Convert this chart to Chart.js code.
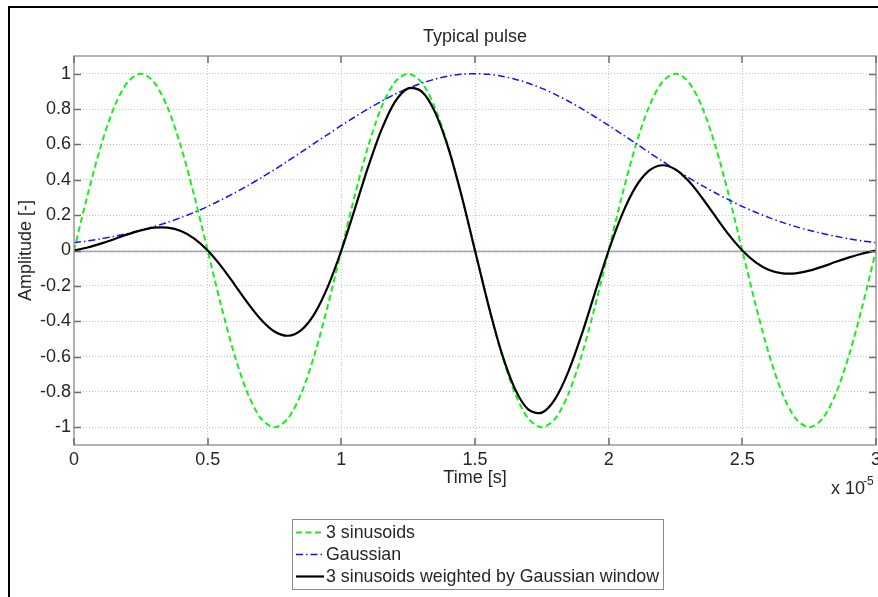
<!DOCTYPE html>
<html>
<head>
<meta charset="utf-8">
<title>Typical pulse</title>
<script src="https://cdn.jsdelivr.net/npm/chart.js@4.4.0/dist/chart.umd.min.js"></script>
<style>
  html, body { margin: 0; padding: 0; background: #fff; }
  canvas { display: block; }
</style>
</head>
<body>
<canvas id="pulse" width="878" height="597"></canvas>
<script>
// time axis in units of 1e-5 s
const timeTicks = [0, 0.5, 1, 1.5, 2, 2.5, 3];
const ampTicks = [-1, -0.8, -0.6, -0.4, -0.2, 0, 0.2, 0.4, 0.6, 0.8, 1];

const time = [
  0, 0.05, 0.1, 0.15, 0.2, 0.25, 0.3, 0.35, 0.4, 0.45,
  0.5, 0.55, 0.6, 0.65, 0.7, 0.75, 0.8, 0.85, 0.9, 0.95,
  1, 1.05, 1.1, 1.15, 1.2, 1.25, 1.3, 1.35, 1.4, 1.45,
  1.5, 1.55, 1.6, 1.65, 1.7, 1.75, 1.8, 1.85, 1.9, 1.95,
  2, 2.05, 2.1, 2.15, 2.2, 2.25, 2.3, 2.35, 2.4, 2.45,
  2.5, 2.55, 2.6, 2.65, 2.7, 2.75, 2.8, 2.85, 2.9, 2.95,
  3
];

const sinusoids = [
  0, 0.309, 0.588, 0.809, 0.951, 1, 0.951, 0.809, 0.588, 0.309,
  0, -0.309, -0.588, -0.809, -0.951, -1, -0.951, -0.809, -0.588, -0.309,
  0, 0.309, 0.588, 0.809, 0.951, 1, 0.951, 0.809, 0.588, 0.309,
  0, -0.309, -0.588, -0.809, -0.951, -1, -0.951, -0.809, -0.588, -0.309,
  0, 0.309, 0.588, 0.809, 0.951, 1, 0.951, 0.809, 0.588, 0.309,
  0, -0.309, -0.588, -0.809, -0.951, -1, -0.951, -0.809, -0.588, -0.309,
  0
];

const gaussian = [
  0.044, 0.054, 0.066, 0.080, 0.096, 0.114, 0.135, 0.159, 0.186, 0.216,
  0.249, 0.286, 0.325, 0.367, 0.411, 0.458, 0.506, 0.556, 0.607, 0.657,
  0.707, 0.755, 0.801, 0.844, 0.883, 0.917, 0.946, 0.969, 0.986, 0.997,
  1, 0.997, 0.986, 0.969, 0.946, 0.917, 0.883, 0.844, 0.801, 0.755,
  0.707, 0.657, 0.607, 0.556, 0.506, 0.458, 0.411, 0.367, 0.325, 0.286,
  0.249, 0.216, 0.186, 0.159, 0.135, 0.114, 0.096, 0.080, 0.066, 0.054,
  0.044
];

const weighted = [
  0, 0.017, 0.039, 0.064, 0.091, 0.114, 0.129, 0.129, 0.110, 0.067,
  0, -0.088, -0.191, -0.297, -0.391, -0.458, -0.482, -0.450, -0.357, -0.203,
  0, 0.233, 0.471, 0.682, 0.839, 0.917, 0.900, 0.784, 0.580, 0.308,
  0, -0.308, -0.580, -0.784, -0.900, -0.917, -0.839, -0.682, -0.471, -0.233,
  0, 0.203, 0.357, 0.450, 0.482, 0.458, 0.391, 0.297, 0.191, 0.088,
  0, -0.067, -0.110, -0.129, -0.129, -0.114, -0.091, -0.064, -0.039, -0.017,
  0
];

const FONT = '"Liberation Sans", Arial, Helvetica, sans-serif';
const FSIZE = 18;
const TEXT = '#262626';

function points(ys) {
  return ys.map((y, i) => ({x: time[i], y: y}));
}

// MATLAB-like decorations: zero line, boxed axes with inward ticks,
// titles, exponent label, legend box and the figure frame
const matlabAxes = {
  id: 'matlabAxes',
  beforeDraw(chart) {
    const ctx = chart.ctx;
    ctx.save();
    ctx.fillStyle = '#fff';
    ctx.fillRect(0, 0, chart.width, chart.height);
    ctx.restore();
  },
  beforeDatasetsDraw(chart) {
    const {ctx, chartArea: a, scales: {y}} = chart;
    const y0 = Math.round(y.getPixelForValue(0)) + 0.5;
    ctx.save();
    ctx.strokeStyle = '#a6a6a6';
    ctx.lineWidth = 1.6;
    ctx.beginPath();
    ctx.moveTo(a.left, y0);
    ctx.lineTo(a.right, y0);
    ctx.stroke();
    ctx.restore();
  },
  afterDatasetsDraw(chart) {
    const {ctx, chartArea: a, scales: {x, y}} = chart;
    ctx.save();

    // axes box
    ctx.strokeStyle = '#9a9a9a';
    ctx.lineWidth = 1.5;
    ctx.strokeRect(a.left, a.top, a.right - a.left, a.bottom - a.top);

    // inward ticks on all four sides
    const tl = 7;
    ctx.strokeStyle = '#6e6e6e';
    ctx.lineWidth = 1.5;
    ctx.beginPath();
    timeTicks.forEach(v => {
      const px = Math.round(x.getPixelForValue(v));
      ctx.moveTo(px, a.bottom); ctx.lineTo(px, a.bottom - tl);
      ctx.moveTo(px, a.top); ctx.lineTo(px, a.top + tl);
    });
    ampTicks.forEach(v => {
      const py = Math.round(y.getPixelForValue(v)) + 0.5;
      ctx.moveTo(a.left, py); ctx.lineTo(a.left + tl, py);
      ctx.moveTo(a.right, py); ctx.lineTo(a.right - tl, py);
    });
    ctx.stroke();

    const cx = (a.left + a.right) / 2;
    ctx.fillStyle = TEXT;
    ctx.font = FSIZE + 'px ' + FONT;
    ctx.textAlign = 'center';
    ctx.textBaseline = 'alphabetic';
    ctx.fillText('Typical pulse', cx, 42);
    ctx.fillText('Time [s]', cx, 483);

    // y axis title
    ctx.save();
    ctx.translate(31, (a.top + a.bottom) / 2);
    ctx.rotate(-Math.PI / 2);
    ctx.fillText('Amplitude [-]', 0, 0);
    ctx.restore();

    // x scale exponent
    ctx.textAlign = 'left';
    ctx.fillText('x 10', 831, 494);
    ctx.font = '12px ' + FONT;
    ctx.fillText('-5', 863, 485);

    // legend
    const lg = {left: 292, top: 519, width: 371, height: 70};
    ctx.fillStyle = '#fff';
    ctx.fillRect(lg.left, lg.top, lg.width, lg.height);
    ctx.strokeStyle = '#8a8a8a';
    ctx.lineWidth = 1;
    ctx.strokeRect(lg.left + 0.5, lg.top + 0.5, lg.width, lg.height);
    ctx.font = '17.8px ' + FONT;
    ctx.textBaseline = 'middle';
    const rows = [532, 554, 576];
    chart.data.datasets.forEach((ds, i) => {
      const ry = rows[i] + 0.5;
      ctx.strokeStyle = ds.borderColor;
      ctx.lineWidth = ds.borderWidth;
      ctx.setLineDash(ds.borderDash || []);
      ctx.beginPath();
      ctx.moveTo(296, ry);
      ctx.lineTo(324, ry);
      ctx.stroke();
      ctx.setLineDash([]);
      ctx.fillStyle = TEXT;
      ctx.fillText(ds.label, 326, rows[i] + 1);
    });

    // figure frame
    ctx.strokeStyle = '#000';
    ctx.lineWidth = 2;
    ctx.strokeRect(9, 7, 900, 700);
    ctx.restore();
  }
};

new Chart(document.getElementById('pulse'), {
  type: 'line',
  data: {
    datasets: [
      {
        label: '3 sinusoids',
        data: points(sinusoids),
        borderColor: '#16f016',
        borderWidth: 2,
        borderDash: [6, 3.5],
        order: 3
      },
      {
        label: 'Gaussian',
        data: points(gaussian),
        borderColor: '#1010ff',
        borderWidth: 1.5,
        borderDash: [7, 3, 1.5, 3],
        order: 2
      },
      {
        label: '3 sinusoids weighted by Gaussian window',
        data: points(weighted),
        borderColor: '#000',
        borderWidth: 2.2,
        order: 1
      }
    ]
  },
  options: {
    responsive: false,
    animation: false,
    devicePixelRatio: 1,
    datasets: {
      line: {
        pointRadius: 0,
        fill: false,
        tension: 0.3
      }
    },
    layout: {
      autoPadding: false,
      padding: {left: 0, top: 56, right: 2, bottom: 122}
    },
    plugins: {
      legend: {display: false},
      title: {display: false},
      tooltip: {enabled: false}
    },
    scales: {
      x: {
        type: 'linear',
        min: 0,
        max: 3,
        afterBuildTicks: s => { s.ticks = timeTicks.map(v => ({value: v})); },
        afterFit: s => {
          s.height = 30;
          // the end labels may hang past the plot box
          s.paddingLeft = 0;
          s.paddingRight = 0;
        },
        grid: {color: '#c4c4c4', lineWidth: 1, drawTicks: false},
        border: {display: false, dash: [1, 2]},
        ticks: {
          padding: 4,
          color: TEXT,
          font: {family: FONT, size: FSIZE},
          maxRotation: 0,
          autoSkip: false,
          callback: v => String(v)
        }
      },
      y: {
        type: 'linear',
        min: -1.1,
        max: 1.1,
        afterBuildTicks: s => { s.ticks = ampTicks.map(v => ({value: v})); },
        afterFit: s => {
          s.width = 74;
          s.paddingTop = 0;
          s.paddingBottom = 0;
        },
        grid: {color: '#c4c4c4', lineWidth: 1, drawTicks: false},
        border: {display: false, dash: [1, 2]},
        ticks: {
          padding: 3,
          color: TEXT,
          font: {family: FONT, size: FSIZE},
          autoSkip: false,
          callback: v => String(Number(v.toFixed(1)))
        }
      }
    }
  },
  plugins: [matlabAxes]
});
</script>
</body>
</html>
